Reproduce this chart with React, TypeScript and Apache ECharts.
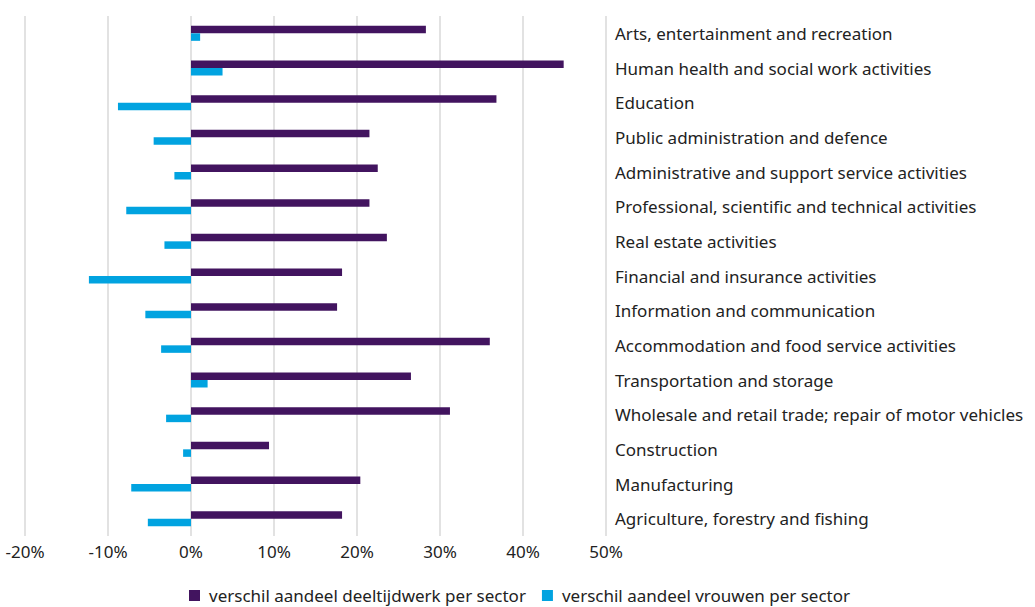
import React, { useEffect, useRef } from "react";
import * as echarts from "echarts";

const categories = [
  "Arts, entertainment and recreation",
  "Human health and social work activities",
  "Education",
  "Public administration and defence",
  "Administrative and support service activities",
  "Professional, scientific and technical activities",
  "Real estate activities",
  "Financial and insurance activities",
  "Information and communication",
  "Accommodation and food service activities",
  "Transportation and storage",
  "Wholesale and retail trade; repair of motor vehicles",
  "Construction",
  "Manufacturing",
  "Agriculture, forestry and fishing",
];

const deeltijdwerk = [28.3, 44.9, 36.8, 21.5, 22.5, 21.5, 23.6, 18.2, 17.6, 36.0, 26.5, 31.2, 9.4, 20.4, 18.2];
const vrouwen = [1.1, 3.8, -8.8, -4.5, -2.0, -7.8, -3.2, -12.3, -5.5, -3.6, 2.0, -3.0, -0.95, -7.2, -5.2];

const seriesNames = [
  "verschil aandeel deeltijdwerk per sector",
  "verschil aandeel vrouwen per sector",
];
const tickMin = -20;
const tickMax = 50;
const tickStep = 10;

const FONT = "Noto Sans";

export default function App() {
  const ref = useRef<HTMLDivElement>(null);
  useEffect(() => {
    if (!ref.current) return;
    const chart = echarts.init(ref.current, null, { renderer: "svg" });
    chart.setOption({
      animation: false,
      textStyle: { fontFamily: FONT },
      grid: { left: 25, right: 429, top: 16, bottom: 71, containLabel: false },
      legend: {
        data: seriesNames,
        top: 587,
        left: 189,
        icon: "rect",
        itemWidth: 11,
        itemHeight: 11,
        itemGap: 16,
        padding: 0,
        textStyle: { fontSize: 17, color: "#222", fontFamily: FONT, padding: [0, 0, 0, 4] },
      },
      xAxis: {
        type: "value",
        min: tickMin,
        max: tickMax,
        interval: tickStep,
        axisLine: { show: false },
        axisTick: { show: false },
        splitLine: { show: true, lineStyle: { color: "#d9d9d9", width: 1.5 } },
        axisLabel: {
          formatter: (v: number) => `${v}%`,
          fontSize: 17,
          color: "#222",
          margin: 7,
          fontFamily: FONT,
        },
      },
      yAxis: {
        type: "category",
        data: categories,
        inverse: true,
        position: "right",
        axisLine: { show: false },
        axisTick: { show: false },
        splitLine: { show: false },
        axisLabel: {
          align: "left",
          margin: 9,
          fontSize: 17,
          color: "#222",
          fontFamily: FONT,
        },
      },
      series: [
        {
          name: seriesNames[0],
          type: "bar",
          data: deeltijdwerk,
          barWidth: 7.5,
          barGap: "0%",
          itemStyle: { color: "#42145F" },
        },
        {
          name: seriesNames[1],
          type: "bar",
          data: vrouwen,
          barWidth: 7.5,
          barGap: "0%",
          itemStyle: { color: "#01A3E0" },
        },
      ],
    });
    return () => chart.dispose();
  }, []);
  return <div ref={ref} style={{ width: 1035, height: 607, position: "absolute", left: 0, top: 0 }} />;
}
